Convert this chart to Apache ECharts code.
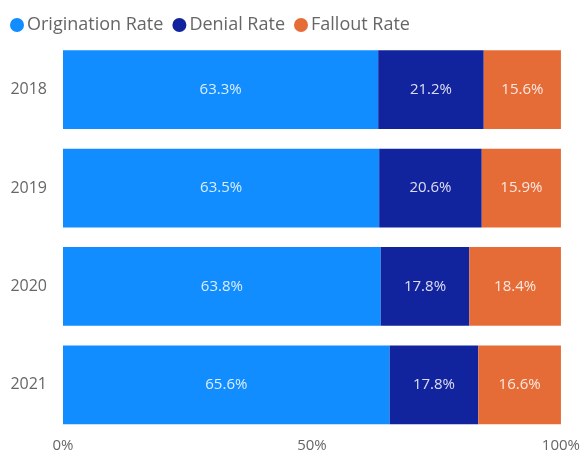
<!DOCTYPE html>
<html>
<head>
    <meta charset="utf-8">
    <title>Rates by year</title>
    <script src="https://cdn.jsdelivr.net/npm/echarts@6/dist/echarts.min.js"></script>
    <style>
        html, body { margin: 0; padding: 0; background: #fff; }
        #main { width: 583px; height: 453px; }
    </style>
</head>
<body>
<div id="main"></div>
<script>
    var years = ['2018', '2019', '2020', '2021'];
    var origination = [63.3, 63.5, 63.8, 65.6];
    var denial = [21.2, 20.6, 17.8, 17.8];
    var fallout = [15.6, 15.9, 18.4, 16.6];
    var xTicks = [0, 50, 100];

    var font = "'Open Sans', 'Noto Sans', sans-serif";

    function barSeries(name, data, color) {
        return {
            name: name,
            type: 'bar',
            stack: 'all',
            data: data,
            barCategoryGap: '20%',
            itemStyle: { color: color },
            label: {
                show: true,
                position: 'inside',
                color: 'rgba(255,255,255,0.85)',
                fontSize: 15,
                fontFamily: font,
                formatter: function (p) { return p.value.toFixed(1) + '%'; }
            },
            emphasis: { disabled: true }
        };
    }

    var myChart = echarts.init(document.getElementById('main'));
    var option = {
        animation: false,
        textStyle: { fontFamily: font },
        legend: {
            left: 5,
            top: 11,
            icon: 'circle',
            itemWidth: 14,
            itemHeight: 14,
            itemGap: 9,
            textStyle: { color: '#666666', fontSize: 18, fontFamily: font, padding: [0, 0, 0, -2] },
            data: ['Origination Rate', 'Denial Rate', 'Fallout Rate']
        },
        grid: { left: 63, right: 22, top: 40.5, bottom: 16.5 },
        xAxis: {
            type: 'value',
            min: 0,
            max: 100,
            interval: 50,
            axisLine: { show: false },
            axisTick: { show: false },
            splitLine: { show: false },
            axisLabel: {
                color: '#666666',
                fontSize: 15,
                margin: 4,
                formatter: function (v) { return xTicks.indexOf(v) >= 0 ? v + '%' : ''; }
            }
        },
        yAxis: {
            type: 'category',
            inverse: true,
            data: years,
            axisLine: { show: false },
            axisTick: { show: false },
            axisLabel: { color: '#666666', fontSize: 16, margin: 16 }
        },
        series: [
            barSeries('Origination Rate', origination, '#118DFF'),
            barSeries('Denial Rate', denial, '#12239E'),
            barSeries('Fallout Rate', fallout, '#E66C37')
        ]
    };
    myChart.setOption(option);
</script>
</body>
</html>
